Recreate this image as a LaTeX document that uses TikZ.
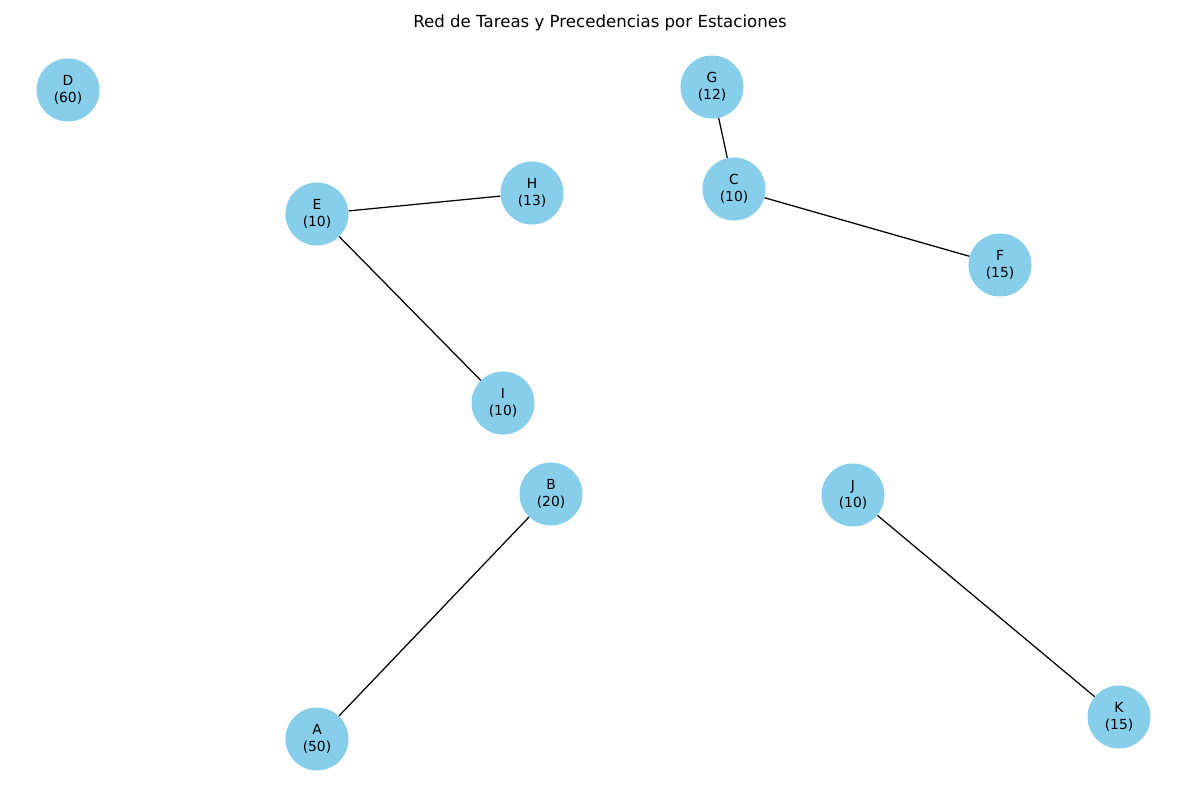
\documentclass[tikz,border=0pt]{standalone}
\usepackage{fontspec}
\setmainfont{DejaVu Sans}
\definecolor{skyblue}{HTML}{87CEEB}
\begin{document}
\begin{tikzpicture}[x=0.01in,y=-0.01in,
  task/.style={circle,fill=skyblue,minimum size=0.63in,inner sep=0pt,align=center,font=\fontsize{10pt}{12pt}\selectfont},
  link/.style={draw=black,line width=0.9pt}]
\useasboundingbox (0,0) rectangle (1200,800);
\node[font=\fontsize{12pt}{14pt}\selectfont] (title) at (600,23) {Red de Tareas y Precedencias por Estaciones};
\node[task] (D) at (68,90) {D\\(60)};
\node[task] (G) at (712,87) {G\\(12)};
\node[task] (E) at (317,214) {E\\(10)};
\node[task] (H) at (532,193) {H\\(13)};
\node[task] (C) at (734,189) {C\\(10)};
\node[task] (F) at (1000,265) {F\\(15)};
\node[task] (I) at (503,403) {I\\(10)};
\node[task] (B) at (551,494) {B\\(20)};
\node[task] (J) at (853,495) {J\\(10)};
\node[task] (A) at (317,739) {A\\(50)};
\node[task] (K) at (1119,717) {K\\(15)};
\draw[link] (E) -- (H);
\draw[link] (E) -- (I);
\draw[link] (G) -- (C);
\draw[link] (C) -- (F);
\draw[link] (B) -- (A);
\draw[link] (J) -- (K);
\end{tikzpicture}
\end{document}
